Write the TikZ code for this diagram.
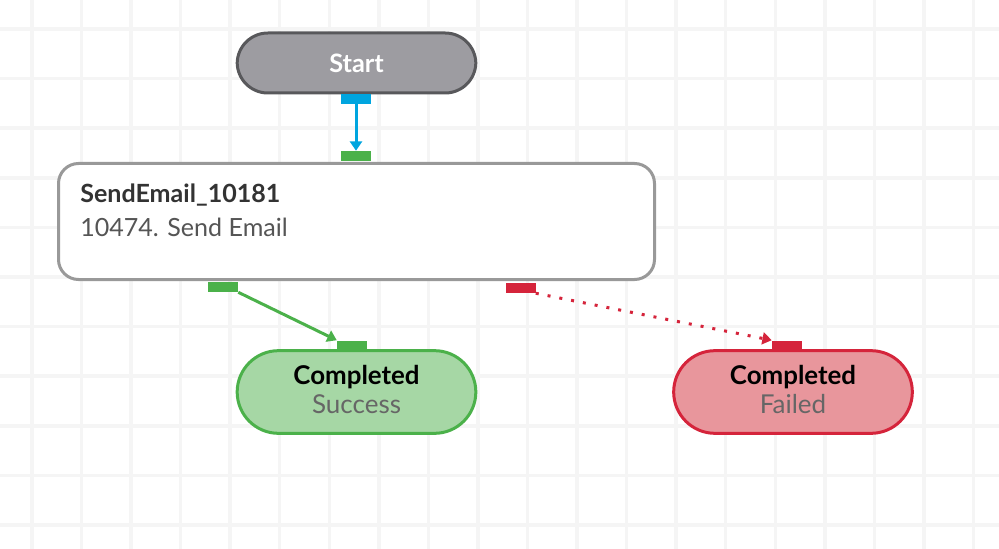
\documentclass[tikz,border=0pt]{standalone}
\usepackage{fontspec}
\setmainfont{Lato}
\usetikzlibrary{arrows.meta}
\definecolor{gridc}{HTML}{F5F5F5}
\definecolor{startfill}{HTML}{9D9CA1}
\definecolor{startdraw}{HTML}{58585B}
\definecolor{cblue}{HTML}{00A5DF}
\definecolor{cgreen}{HTML}{4BB14A}
\definecolor{cgreenfill}{HTML}{A6D7A5}
\definecolor{cred}{HTML}{D5243B}
\definecolor{credfill}{HTML}{E8969C}
\definecolor{boxdraw}{HTML}{999999}
\definecolor{titlec}{HTML}{333333}
\definecolor{subc}{HTML}{555555}
\definecolor{subc2}{HTML}{666666}
\tikzset{
  gridline/.style={draw=gridc, line width=2.6pt},
  pill/.style={rectangle, rounded corners=#1, line width=2.25pt, inner sep=0pt, align=center},
  port/.style={rectangle, inner sep=0pt, minimum width=22.5pt, minimum height=7.5pt},
  fsz/.style={font=\fontsize{#1}{#1}\selectfont},
  conn/.style={line width=2.25pt},
}
\begin{document}
\begin{tikzpicture}[x=0.75pt,y=-0.75pt]
\useasboundingbox (0,0) rectangle (999,549);
\fill[white] (0,0) rectangle (999,549);
% grid
\foreach \i in {0,...,19} \draw[gridline] ({32+49.55*\i},0) -- ({32+49.55*\i},549);
\foreach \j in {0,...,10} \draw[gridline] (0,{29+49.6*\j}) -- (999,{29+49.6*\j});

% nodes
\node[pill=23pt, fill=startfill, draw=startdraw, minimum width=179pt, minimum height=45pt] (start) at (356.5,63) {};
\node[fsz=19, text=white, anchor=base] (starttxt) at (356.5,73) {\bfseries Start};

\node[rectangle, rounded corners=15pt, draw=boxdraw, fill=white, line width=2.25pt, minimum width=447pt, minimum height=87pt, inner sep=0pt] (send) at (356.5,221.5) {};
\node[fsz=18.8, text=titlec, anchor=base west, inner sep=0pt] (sendtitle) at (80,203) {\bfseries SendEmail\_10181};
\node[fsz=18.8, text=subc, anchor=base west, inner sep=0pt] (sendsub) at (80,236) {10474. Send Email};

\node[pill=31pt, fill=cgreenfill, draw=cgreen, minimum width=179pt, minimum height=62pt] (succ) at (356.5,392) {};
\node[fsz=19.4, text=black, anchor=base] (succt) at (356.5,384) {\bfseries Completed};
\node[fsz=19.5, text=subc2, anchor=base] (succs) at (356.5,413) {Success};

\node[pill=31pt, fill=credfill, draw=cred, minimum width=179pt, minimum height=62pt] (fail) at (793,392) {};
\node[fsz=19.4, text=black, anchor=base] (failt) at (793,384) {\bfseries Completed};
\node[fsz=19.5, text=subc2, anchor=base] (fails) at (793,413) {Failed};

% port anchors (ports drawn after connectors)
\coordinate (startout) at (356,99);
\coordinate (sendin) at (356,156);
\coordinate (okout) at (223,287);
\coordinate (okin) at (352,345);
\coordinate (failout) at (520.5,288);
\coordinate (failin) at (787,345);

\node[port, fill=cblue] (p1) at (startout) {};
\node[port, fill=cgreen] (p2) at (sendin) {};
\node[port, fill=cgreen] (p3) at (okout) {};
\node[port, fill=cgreen, minimum height=6.75pt] (p4) at (okin) {};
\node[port, fill=cred] (p5) at (failout) {};
\node[port, fill=cred, minimum height=6.75pt] (p6) at (failin) {};

% connectors
\draw[conn, draw=cblue, -{Triangle[width=9pt,length=7pt]}] (p1.south) -- (p2.north);
\draw[conn, draw=cgreen, -{Triangle[width=9pt,length=7pt]}] (p3.south east) -- (p4.north west);
\draw[conn, draw=cred, dash pattern=on 2.25pt off 6.75pt, -{Triangle[width=9pt,length=7pt]}] (p5.south east) -- (p6.north west);

% redraw ports on top
\node[port, fill=cgreen] at (okin) [minimum height=6.75pt] {};
\node[port, fill=cred] at (failin) [minimum height=6.75pt] {};
\end{tikzpicture}
\end{document}
